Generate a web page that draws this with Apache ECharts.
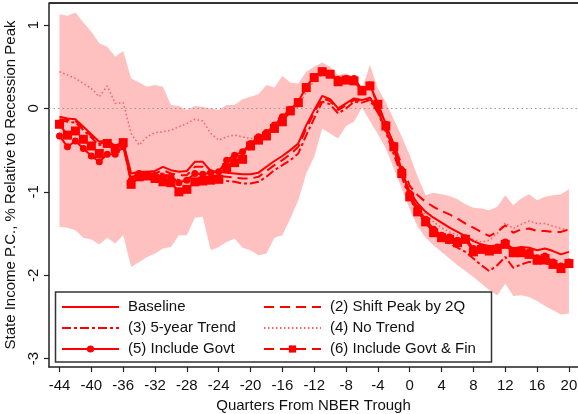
<!DOCTYPE html>
<html><head><meta charset="utf-8">
<script src="https://cdn.jsdelivr.net/npm/echarts@6/dist/echarts.min.js"></script>
<style>html,body{margin:0;padding:0;background:#fff}#c{width:578px;height:414px}</style>
</head><body><div id="c"></div>
<script>
const quarters = [-44,-43,-42,-41,-40,-39,-38,-37,-36,-35,-34,-33,-32,-31,-30,-29,-28,-27,-26,-25,-24,-23,-22,-21,-20,-19,-18,-17,-16,-15,-14,-13,-12,-11,-10,-9,-8,-7,-6,-5,-4,-3,-2,-1,0,1,2,3,4,5,6,7,8,9,10,11,12,13,14,15,16,17,18,19,20];
const xTicks = [-44,-40,-36,-32,-28,-24,-20,-16,-12,-8,-4,0,4,8,12,16,20];
const yTicks = [-3,-2,-1,0,1];

const bandUpper = [1.13,1.11,1.15,1.03,0.92,0.78,0.74,0.62,0.69,0.36,0.31,0.26,0.28,0.26,0.04,0.03,-0.02,0.03,0.02,0.00,-0.02,0.04,0.04,0.11,0.14,0.17,0.28,0.25,0.39,0.31,0.30,0.44,0.50,0.55,0.50,0.40,0.42,0.37,0.23,0.52,0.24,0.07,-0.13,-0.34,-0.56,-0.82,-1.04,-1.01,-1.03,-1.05,-1.09,-1.15,-1.19,-1.20,-1.22,-1.18,-1.04,-1.16,-1.08,-1.03,-1.10,-1.06,-1.04,-1.03,-0.97];
const bandLower = [-1.42,-1.43,-1.46,-1.55,-1.57,-1.63,-1.55,-1.62,-1.52,-1.90,-1.84,-1.78,-1.74,-1.68,-1.66,-1.52,-1.52,-1.31,-1.30,-1.70,-1.66,-1.60,-1.56,-1.67,-1.70,-1.76,-1.74,-1.55,-1.52,-1.32,-1.10,-0.78,-0.58,-0.24,-0.30,-0.36,-0.21,-0.16,0.01,-0.15,-0.31,-0.48,-0.72,-0.96,-1.21,-1.42,-1.55,-1.64,-1.72,-1.80,-1.88,-1.95,-2.02,-2.10,-2.18,-2.24,-2.10,-2.25,-2.24,-2.26,-2.31,-2.37,-2.42,-2.47,-2.46];
const baseline = [-0.10,-0.12,-0.13,-0.22,-0.31,-0.40,-0.38,-0.45,-0.40,-0.78,-0.76,-0.76,-0.75,-0.70,-0.74,-0.76,-0.75,-0.64,-0.64,-0.75,-0.76,-0.77,-0.78,-0.79,-0.79,-0.77,-0.70,-0.63,-0.57,-0.50,-0.42,-0.20,-0.02,0.15,0.11,0.00,0.06,0.12,0.10,0.13,-0.03,-0.26,-0.50,-0.77,-1.00,-1.14,-1.24,-1.31,-1.37,-1.43,-1.48,-1.53,-1.59,-1.63,-1.65,-1.65,-1.62,-1.68,-1.66,-1.67,-1.70,-1.68,-1.71,-1.75,-1.72];
const shiftPeak = [-0.13,-0.14,-0.15,-0.24,-0.33,-0.42,-0.40,-0.47,-0.42,-0.80,-0.78,-0.79,-0.78,-0.74,-0.78,-0.80,-0.80,-0.70,-0.70,-0.80,-0.81,-0.82,-0.83,-0.84,-0.84,-0.82,-0.75,-0.68,-0.62,-0.55,-0.46,-0.24,-0.05,0.12,0.09,-0.02,0.04,0.10,0.09,0.12,0.00,-0.20,-0.43,-0.68,-0.93,-1.04,-1.12,-1.18,-1.23,-1.27,-1.32,-1.38,-1.43,-1.48,-1.53,-1.48,-1.40,-1.49,-1.45,-1.44,-1.47,-1.47,-1.48,-1.48,-1.45];
const trend5 = [-0.14,-0.16,-0.17,-0.26,-0.35,-0.44,-0.42,-0.49,-0.44,-0.82,-0.80,-0.80,-0.80,-0.78,-0.82,-0.86,-0.86,-0.78,-0.79,-0.86,-0.88,-0.87,-0.88,-0.90,-0.90,-0.88,-0.82,-0.74,-0.68,-0.62,-0.54,-0.32,-0.12,0.08,0.05,-0.06,0.00,0.08,0.07,0.10,-0.05,-0.28,-0.55,-0.82,-1.08,-1.25,-1.38,-1.47,-1.55,-1.62,-1.67,-1.72,-1.80,-1.88,-1.95,-1.88,-1.78,-1.91,-1.87,-1.84,-1.86,-1.86,-1.88,-1.91,-1.86];
const noTrend = [0.44,0.40,0.36,0.30,0.24,0.14,0.27,0.06,0.07,-0.30,-0.44,-0.34,-0.29,-0.28,-0.26,-0.22,-0.18,-0.13,-0.15,-0.30,-0.38,-0.34,-0.32,-0.34,-0.36,-0.35,-0.28,-0.20,-0.12,-0.07,0.02,0.20,0.33,0.40,0.39,0.31,0.33,0.32,0.20,0.25,0.03,-0.22,-0.47,-0.76,-1.02,-1.18,-1.28,-1.36,-1.43,-1.48,-1.52,-1.54,-1.57,-1.60,-1.58,-1.50,-1.37,-1.44,-1.39,-1.35,-1.38,-1.38,-1.41,-1.44,-1.46];
const inclGovt = [-0.33,-0.46,-0.39,-0.48,-0.57,-0.64,-0.55,-0.55,-0.46,-0.86,-0.78,-0.79,-0.80,-0.82,-0.82,-0.89,-0.86,-0.78,-0.79,-0.77,-0.76,-0.62,-0.56,-0.52,-0.42,-0.34,-0.29,-0.20,-0.10,-0.01,0.08,0.26,0.38,0.45,0.42,0.35,0.36,0.36,0.23,0.28,0.06,-0.19,-0.44,-0.74,-1.02,-1.20,-1.33,-1.45,-1.52,-1.54,-1.58,-1.55,-1.68,-1.66,-1.68,-1.66,-1.60,-1.70,-1.70,-1.72,-1.79,-1.77,-1.84,-1.89,-1.84];
const inclGovtFin = [-0.19,-0.32,-0.27,-0.37,-0.45,-0.54,-0.42,-0.48,-0.41,-0.91,-0.82,-0.81,-0.84,-0.88,-0.89,-1.00,-0.97,-0.88,-0.87,-0.86,-0.85,-0.71,-0.65,-0.61,-0.45,-0.38,-0.33,-0.24,-0.16,-0.03,0.07,0.25,0.37,0.44,0.41,0.32,0.34,0.33,0.21,0.27,0.05,-0.21,-0.46,-0.78,-1.06,-1.24,-1.36,-1.49,-1.55,-1.57,-1.61,-1.57,-1.72,-1.69,-1.71,-1.69,-1.63,-1.73,-1.73,-1.75,-1.82,-1.80,-1.87,-1.92,-1.86];

const names = ['Baseline','(2) Shift Peak by 2Q','(3) 5-year Trend','(4) No Trend','(5) Include Govt','(6) Include Govt & Fin'];

const FONT = '"Liberation Sans", Arial, Helvetica, sans-serif';
const RED = '#ff0000';
const pairs = arr => quarters.map((q, i) => [q, arr[i]]);

function lineSeries(name, arr, lineType, width, color, symbol, symSize) {
  return {
    name, type: 'line', data: pairs(arr),
    symbol: symbol || 'none', symbolSize: symSize || 0, showSymbol: !!symbol,
    lineStyle: { color, width, type: lineType },
    itemStyle: { color },
    emphasis: { disabled: true }, z: 3
  };
}
const noSym = { color: 'rgba(0,0,0,0)', opacity: 0, borderWidth: 0 };
const legendText = { fontSize: 15, color: '#111', lineHeight: 15, padding: [0, 0, 0, 4], fontFamily: FONT };

const chart = echarts.init(document.getElementById('c'));
chart.setOption({
  animation: false,
  textStyle: { fontFamily: FONT },
  grid: { left: 49, right: 0, top: 3, bottom: 47, containLabel: false, outerBoundsMode: 'none' },
  xAxis: {
    type: 'value', min: -45.32, max: 21.14,
    axisLine: { show: true, onZero: false, lineStyle: { color: '#222', width: 1.5 } },
    axisTick: { show: true, customValues: xTicks, length: 5, lineStyle: { color: '#222', width: 1.2 } },
    axisLabel: { customValues: xTicks, fontSize: 15, color: '#111', margin: 11, fontFamily: FONT },
    splitLine: { show: false },
    name: 'Quarters From NBER Trough', nameLocation: 'middle', nameGap: 21,
    nameTextStyle: { fontSize: 15, color: '#111', fontFamily: FONT }
  },
  yAxis: {
    type: 'value', min: -3.10, max: 1.264,
    axisLine: { show: true, onZero: false, lineStyle: { color: '#222', width: 1.5 } },
    axisTick: { show: true, customValues: yTicks, length: 5, lineStyle: { color: '#222', width: 1.2 } },
    axisLabel: { customValues: yTicks, fontSize: 15, color: '#111', margin: 8, rotate: 90, fontFamily: FONT },
    splitLine: { show: false },
    name: 'State Income P.C., % Relative to Recession Peak', nameLocation: 'middle', nameGap: 22,
    nameTextStyle: { fontSize: 15, color: '#111', fontFamily: FONT }
  },
  legend: [
    { data: [{ name: names[0], itemStyle: noSym }, { name: names[2], itemStyle: noSym }, names[4]],
      orient: 'vertical', left: 61, top: 299.5, padding: 0,
      itemWidth: 57, itemHeight: 9, itemGap: 6, textStyle: legendText },
    { data: [{ name: names[1], itemStyle: noSym }, { name: names[3], itemStyle: noSym }, names[5]],
      orient: 'vertical', left: 263, top: 299.5, padding: 0,
      itemWidth: 57, itemHeight: 9, itemGap: 6, textStyle: legendText }
  ],
  graphic: [
    { type: 'rect', z: 3, shape: { x: 55.5, y: 292, width: 436, height: 70 },
      style: { fill: '#fff', stroke: '#333', lineWidth: 1.5 } },
    { type: 'line', z: 3, shape: { x1: 49, y1: 3, x2: 578, y2: 3 },
      style: { stroke: '#333', lineWidth: 1.8 } }
  ],
  series: [
    { name: 'band', type: 'custom', z: 1, silent: true,
      data: quarters.map((q, i) => [q, bandLower[i], bandUpper[i]]),
      encode: { x: 0, y: [1, 2] },
      renderItem: (params, api) => {
        if (params.dataIndex !== 0) return null;
        const pts = [];
        for (let i = 0; i < quarters.length; i++) pts.push(api.coord([quarters[i], bandUpper[i]]));
        for (let i = quarters.length - 1; i >= 0; i--) pts.push(api.coord([quarters[i], bandLower[i]]));
        return { type: 'polygon', shape: { points: pts }, style: { fill: '#ffc0c0', stroke: null } };
      } },
    Object.assign(lineSeries(names[3], noTrend, [1.5, 2.5], 1.5, '#ff5c5c'), {
      markLine: { silent: true, symbol: ['none', 'none'], label: { show: false }, z: 2,
        lineStyle: { color: '#9a9a9a', type: [1.5, 3], width: 1 }, data: [{ yAxis: 0 }] } }),
    lineSeries(names[2], trend5, [9, 3, 3, 3], 2, RED),
    lineSeries(names[1], shiftPeak, [10, 6], 2, RED),
    lineSeries(names[0], baseline, 'solid', 2, RED),
    lineSeries(names[4], inclGovt, 'solid', 2, RED, 'circle', 7),
    lineSeries(names[5], inclGovtFin, [10, 6], 2, RED, 'rect', 9)
  ]
});
</script></body></html>
